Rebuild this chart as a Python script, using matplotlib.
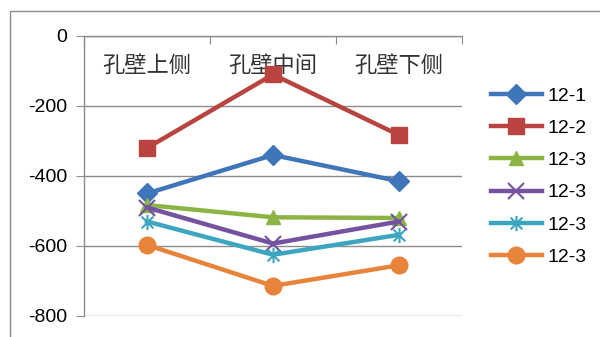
import numpy as np
import matplotlib
matplotlib.use("Agg")
from matplotlib import pyplot as plt
from matplotlib.path import Path
from matplotlib.patches import Rectangle

plt.rcParams['font.family'] = ['Liberation Sans', 'Noto Sans CJK SC', 'DejaVu Sans']
plt.rcParams['axes.unicode_minus'] = False

# data
categories = ['孔壁上侧', '孔壁中间', '孔壁下侧']
labels = ['12-1', '12-2', '12-3', '12-3', '12-3', '12-3']
s1 = [-450, -340, -415]
s2 = [-320, -110, -283]
s3 = [-483, -518, -520]
s4 = [-490, -593, -530]
s5 = [-530, -625, -568]
s6 = [-597, -714, -655]
series = [s1, s2, s3, s4, s5, s6]

colors = ['#3F75B9', '#B8433F', '#8CB445', '#7452A0', '#3CA6C0', '#E8843A']

# asterisk marker (x with a vertical bar), like excel's star
verts = [(-1, -1), (1, 1), (-1, 1), (1, -1), (0, -1.3), (0, 1.3)]
codes = [Path.MOVETO, Path.LINETO] * 3
star = Path(verts, codes)

markers = ['D', 's', '^', 'x', star, 'o']
msizes = [10, 12, 10, 11, 11, 12]

fig = plt.figure(figsize=(6, 3.37), dpi=100)
fig.patches.append(Rectangle((10/600, -0.1), 1.0, 1 - 11/337 + 0.1,
                             transform=fig.transFigure, fill=False,
                             edgecolor='#8c8c8c', lw=1.0))

ax = fig.add_axes([84/600, 21/337, 378/600, 280/337])
x = np.arange(len(categories)) + 0.5

for vals, lab, c, m, ms in zip(series, labels, colors, markers, msizes):
    mew = 1.5 if m in ('x',) or m is star else 1
    ax.plot(x, vals, color=c, lw=3.2, marker=m, markersize=ms,
            markerfacecolor=c, markeredgecolor=c, markeredgewidth=mew,
            label=lab, zorder=3)

ax.set_xlim(0, 3)
ax.set_ylim(-800, 0)
ax.set_yticks(np.arange(-800, 1, 200))
ax.yaxis.grid(True, color='#8c8c8c', lw=1)
ax.set_axisbelow(True)

for side in ['right', 'bottom']:
    ax.spines[side].set_visible(False)
for side in ['left', 'top']:
    ax.spines[side].set_color('#8c8c8c')
    ax.spines[side].set_linewidth(1)

ax.xaxis.tick_top()
ax.set_xticks([0, 1, 2, 3])
ax.set_xticklabels([])
ax.tick_params(axis='x', direction='in', length=6, color='#8c8c8c')
ax.tick_params(axis='y', direction='out', length=6, pad=6, color='#8c8c8c',
               labelsize=14)

for xi, cat in zip(x, categories):
    ax.text(xi, -83, cat, ha='center', va='center', fontsize=16,
            family=['Noto Sans CJK SC', 'DejaVu Sans'], fontweight='light',
            color='#333333', zorder=1)

fig.legend(loc='center left', bbox_to_anchor=(491/600, 0.476),
           frameon=False, fontsize=14, handlelength=2.6, handletextpad=0.3,
           labelspacing=0.75, borderpad=0, borderaxespad=0)

fig.savefig('out.png', dpi=100)
